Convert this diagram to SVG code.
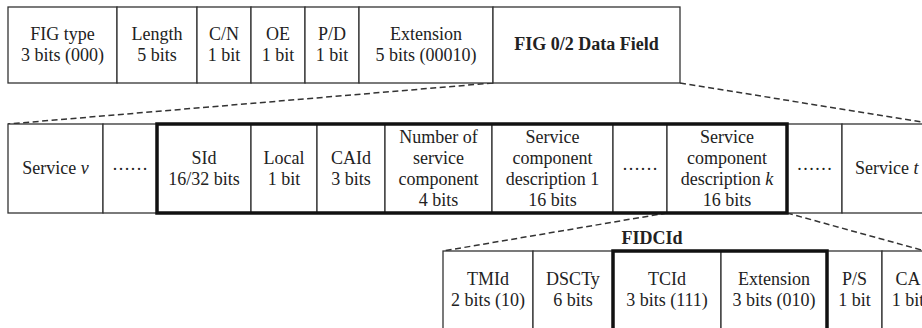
<svg xmlns="http://www.w3.org/2000/svg" width="922" height="328" viewBox="0 0 922 328" font-family="'Liberation Serif', 'DejaVu Serif', serif">
<style>
text{font-family:'Liberation Serif','DejaVu Serif',serif;font-size:18px;fill:#222;text-anchor:middle}
.b{font-weight:bold}
.c{fill:#fff;stroke:#333;stroke-width:1.3}
.t{fill:none;stroke:#111;stroke-width:3.5}
.d{fill:none;stroke:#333;stroke-width:1.5;stroke-dasharray:6 3.5}
</style>
<rect width="922" height="328" fill="#fff"/>
<g id="connectors">
<line class="d" x1="493" y1="83" x2="8" y2="124"/>
<line class="d" x1="680" y1="83" x2="934" y2="124"/>
<line class="d" x1="667" y1="213" x2="443" y2="251"/>
<line class="d" x1="787" y1="213" x2="925" y2="251"/>
</g>
<g id="top-row">
<g id="fig-type"><rect class="c" x="8" y="7" width="109" height="76"/><text x="62.5" y="39.5">FIG type</text><text x="62.5" y="60.5">3 bits (000)</text></g>
<g id="length"><rect class="c" x="117" y="7" width="80" height="76"/><text x="157" y="39.5">Length</text><text x="157" y="60.5">5 bits</text></g>
<g id="cn"><rect class="c" x="197" y="7" width="54" height="76"/><text x="224" y="39.5">C/N</text><text x="224" y="60.5">1 bit</text></g>
<g id="oe"><rect class="c" x="251" y="7" width="54" height="76"/><text x="278" y="39.5">OE</text><text x="278" y="60.5">1 bit</text></g>
<g id="pd"><rect class="c" x="305" y="7" width="54" height="76"/><text x="332" y="39.5">P/D</text><text x="332" y="60.5">1 bit</text></g>
<g id="extension"><rect class="c" x="359" y="7" width="134" height="76"/><text x="426" y="39.5">Extension</text><text x="426" y="60.5">5 bits (00010)</text></g>
<g id="data-field"><rect class="c" x="493" y="7" width="187" height="76"/><text class="b" x="586.5" y="50">FIG 0/2 Data Field</text></g>
</g>
<g id="middle-row">
<g id="service-v"><rect class="c" x="8" y="124" width="95" height="89"/><text x="55.5" y="174">Service <tspan font-style="italic">v</tspan></text></g>
<g id="dots1"><rect class="c" x="103" y="124" width="54" height="89"/><text x="130" y="170">……</text></g>
<g id="sid"><rect class="c" x="157" y="124" width="94" height="89"/><text x="204" y="163.5">SId</text><text x="204" y="184.5">16/32 bits</text></g>
<g id="local"><rect class="c" x="251" y="124" width="66" height="89"/><text x="284" y="163.5">Local</text><text x="284" y="184.5">1 bit</text></g>
<g id="caid"><rect class="c" x="317" y="124" width="68" height="89"/><text x="351" y="163.5">CAId</text><text x="351" y="184.5">3 bits</text></g>
<g id="num-comp"><rect class="c" x="385" y="124" width="107" height="89"/><text x="438.5" y="142.5">Number of</text><text x="438.5" y="163.5">service</text><text x="438.5" y="184.5">component</text><text x="438.5" y="205.5">4 bits</text></g>
<g id="scd1"><rect class="c" x="492" y="124" width="121" height="89"/><text x="552.5" y="142.5">Service</text><text x="552.5" y="163.5">component</text><text x="552.5" y="184.5">description 1</text><text x="552.5" y="205.5">16 bits</text></g>
<g id="dots2"><rect class="c" x="613" y="124" width="54" height="89"/><text x="640" y="170">……</text></g>
<g id="scdk"><rect class="c" x="667" y="124" width="120" height="89"/><text x="727" y="142.5">Service</text><text x="727" y="163.5">component</text><text x="727" y="184.5">description <tspan font-style="italic">k</tspan></text><text x="727" y="205.5">16 bits</text></g>
<g id="dots3"><rect class="c" x="787" y="124" width="55" height="89"/><text x="814.5" y="170">……</text></g>
<g id="service-t"><rect class="c" x="842" y="124" width="100" height="89"/><text x="855" y="174" style="text-anchor:start">Service <tspan font-style="italic">t</tspan></text></g>
<rect id="service-box" class="t" x="157" y="124" width="630" height="89"/>
</g>
<g id="bottom-row">
<text id="fidcid-label" class="b" x="652" y="244">FIDCId</text>
<g id="tmid"><rect class="c" x="443" y="251" width="90" height="90"/><text x="488" y="285">TMId</text><text x="488" y="306">2 bits (10)</text></g>
<g id="dscty"><rect class="c" x="533" y="251" width="80" height="90"/><text x="573" y="285">DSCTy</text><text x="573" y="306">6 bits</text></g>
<g id="tcid"><rect class="c" x="613" y="251" width="108" height="90"/><text x="667" y="285">TCId</text><text x="667" y="306">3 bits (111)</text></g>
<g id="extension2"><rect class="c" x="721" y="251" width="106" height="90"/><text x="774" y="285">Extension</text><text x="774" y="306">3 bits (010)</text></g>
<g id="ps"><rect class="c" x="827" y="251" width="55" height="90"/><text x="854.5" y="285">P/S</text><text x="854.5" y="306">1 bit</text></g>
<g id="ca"><rect class="c" x="882" y="251" width="60" height="90"/><text x="908" y="285">CA</text><text x="908" y="306">1 bit</text></g>
<rect id="fidcid-box" class="t" x="613" y="251" width="214" height="90"/>
</g>
</svg>
